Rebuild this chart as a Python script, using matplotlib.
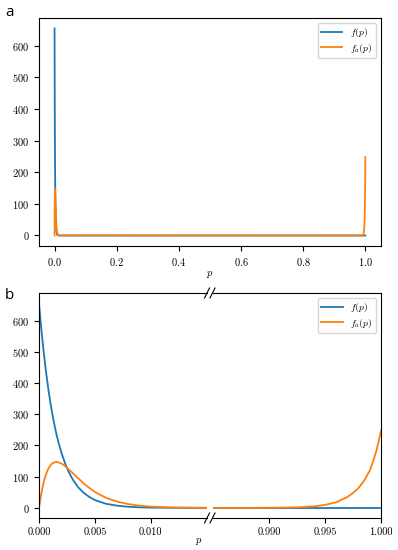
import numpy as np
import matplotlib
matplotlib.use('Agg')
import matplotlib.pyplot as plt
from matplotlib.lines import Line2D

plt.rcParams['font.family'] = 'serif'
plt.rcParams['font.serif'] = ['cmr10']
plt.rcParams['mathtext.fontset'] = 'cm'
plt.rcParams['axes.formatter.use_mathtext'] = True
plt.rcParams['font.size'] = 7.5

# values
p_left = [0, 0.0002, 0.0004, 0.0006, 0.0008, 0.001, 0.0012, 0.0014, 0.0016, 0.0018,
          0.002, 0.0023, 0.0026, 0.003, 0.0035, 0.004, 0.0045, 0.005, 0.006, 0.007,
          0.008, 0.009, 0.010, 0.012, 0.015]
f_left = [655, 575, 505, 443, 389, 341, 299, 262, 230, 202,
          177, 146, 119, 92, 66, 48, 35, 25, 13, 7,
          3.5, 1.8, 0.9, 0.3, 0]
fa_left = [0, 45, 80, 105, 123, 135, 143, 146, 147, 145,
           142, 135, 125, 112, 95, 78, 64, 51, 32, 20,
           12, 7, 4, 1.3, 0.2]

p_right = [0.985, 0.988, 0.990, 0.992, 0.993, 0.994, 0.995, 0.996, 0.997, 0.9975,
           0.998, 0.9985, 0.999, 0.9993, 0.9996, 0.9998, 1.0]
f_right = [0] * len(p_right)
fa_right = [0, 0.1, 0.4, 1.4, 2.6, 5, 9.6, 18, 35, 48,
            64, 88, 120, 150, 185, 215, 248]

p_all = p_left + p_right
f_all = f_left + f_right
fa_all = fa_left + fa_right

blue = '#1f77b4'
orange = '#ff7f0e'
lw = 1.3
leg_kw = dict(loc='upper right', fontsize=7, labelspacing=0.25,
              borderpad=0.35, handlelength=2.2)

fig = plt.figure(figsize=(3.98, 5.5), dpi=100)

# panel a
ax_a = fig.add_axes([0.098, 0.553, 0.859, 0.414])
ax_a.plot(p_all, f_all, color=blue, lw=lw, label='$f(p)$')
ax_a.plot(p_all, fa_all, color=orange, lw=lw, label='$f_a(p)$')
ax_a.set_xlabel('$p$', labelpad=1)
ax_a.legend(**leg_kw)
fig.text(0.012, 0.978, 'a', family='Open Sans', fontsize=11, va='center')

# panel b, broken x axis
ax_l = fig.add_axes([0.098, 0.058, 0.4214, 0.409])
ax_r = fig.add_axes([0.536, 0.058, 0.4214, 0.409], sharey=ax_l)
for ax in (ax_l, ax_r):
    ax.plot(p_all, f_all, color=blue, lw=lw, label='$f(p)$')
    ax.plot(p_all, fa_all, color=orange, lw=lw, label='$f_a(p)$')
ax_l.set_xlim(0, 0.015)
ax_r.set_xlim(0.985, 1.0)
ax_l.set_ylim(ax_a.get_ylim())
ax_l.set_xticks([0, 0.005, 0.010])
ax_r.set_xticks([0.990, 0.995, 1.000])
ax_l.xaxis.set_major_formatter(plt.FormatStrFormatter('%.3f'))
ax_r.xaxis.set_major_formatter(plt.FormatStrFormatter('%.3f'))
ax_l.spines['right'].set_visible(False)
ax_r.spines['left'].set_visible(False)
ax_r.tick_params(axis='y', left=False, labelleft=False)
ax_r.legend(**leg_kw)
fig.text(0.5, 0.012, '$p$', ha='center', fontsize=7.5)
fig.text(0.012, 0.462, 'b', family='Open Sans', fontsize=11, va='center')

# break marks
W, H = 398.0, 550.0
for y in (293, 518):
    for xc in (207.0, 212.5):
        fig.add_artist(Line2D([(xc - 2.5) / W, (xc + 2.5) / W],
                              [1 - (y + 5) / H, 1 - (y - 5) / H],
                              color='k', lw=0.8))

fig.savefig('out.png', dpi=100)
